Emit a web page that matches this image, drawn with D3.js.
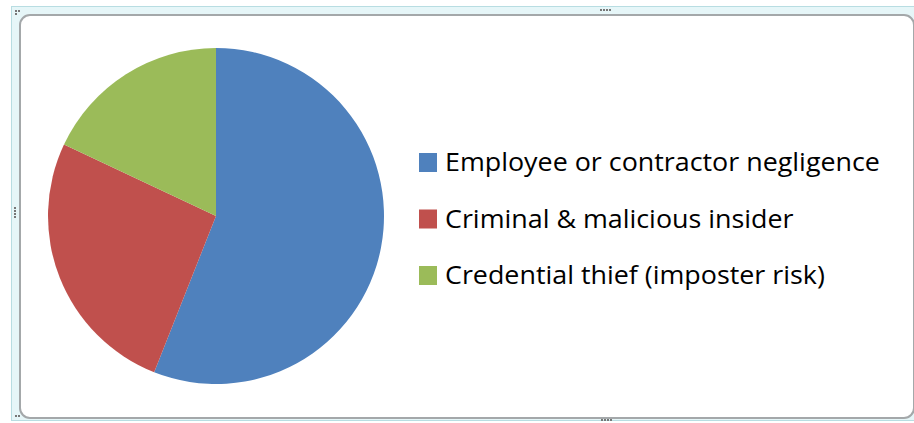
<!DOCTYPE html>
<html>
<head>
<meta charset="utf-8">
<script src="https://cdn.jsdelivr.net/npm/d3@7"></script>
<style>
  body { margin: 0; background: #fff; }
  svg { display: block; }
</style>
</head>
<body>
<svg width="914" height="423"></svg>
<script>
var categories = ["Employee or contractor negligence", "Criminal & malicious insider", "Credential thief (imposter risk)"];
var values = [56, 26, 18];
var colors = ["#4F81BD", "#C0504D", "#9BBB59"];

var svg = d3.select('svg');

// chart frame, like an embedded office object
svg.append('rect')
  .attr('x', 11.5).attr('y', 6.5)
  .attr('width', 910).attr('height', 414)
  .attr('fill', '#e6f6f8')
  .attr('stroke', '#b8dde2');

svg.append('rect')
  .attr('x', 20).attr('y', 15)
  .attr('width', 894).attr('height', 403)
  .attr('rx', 10)
  .attr('fill', '#fff')
  .attr('stroke', '#a4a8aa')
  .attr('stroke-width', 2);

// little grip dots
function grip(x, y, n, vertical) {
  for (var i = 0; i < n; i++) {
    svg.append('rect')
      .attr('x', vertical ? x : x + i * 3)
      .attr('y', vertical ? y + i * 3 : y)
      .attr('width', 2).attr('height', 2)
      .attr('fill', '#777');
  }
}
grip(15, 10, 2, false);
grip(15, 13, 1, false);
grip(600, 9, 4, false);
grip(14, 207, 4, true);
grip(601, 419, 4, false);
grip(15, 415, 2, false);

var cx = 216, cy = 216, r = 168;

var pie = d3.pie().sort(null).value(d => d);
var arc = d3.arc().innerRadius(0).outerRadius(r);

svg.append('g')
  .attr('transform', `translate(${cx},${cy})`)
  .selectAll('path')
  .data(pie(values))
  .enter()
  .append('path')
  .attr('d', arc)
  .attr('fill', (d, i) => colors[i]);

var y = d3.scalePoint()
  .domain(categories)
  .range([162, 275]);

var legend = svg.append('g')
  .selectAll('g')
  .data(categories)
  .enter()
  .append('g')
  .attr('transform', d => `translate(419,${y(d)})`);

legend.append('rect')
  .attr('x', 0).attr('y', -9)
  .attr('width', 18).attr('height', 19)
  .attr('fill', (d, i) => colors[i]);

var texts = legend.append('text')
  .attr('x', 26)
  .attr('y', 9)
  .attr('font-family', 'Open Sans, sans-serif')
  .attr('font-size', 25)
  .attr('fill', '#000')
  .text(d => d);

// squeeze the text to the narrower width of the original face
var w = texts.node().getComputedTextLength();
var k = 435 / w;
texts.attr('transform', `scale(${k},1)`).attr('x', 26 / k);
</script>
</body>
</html>
